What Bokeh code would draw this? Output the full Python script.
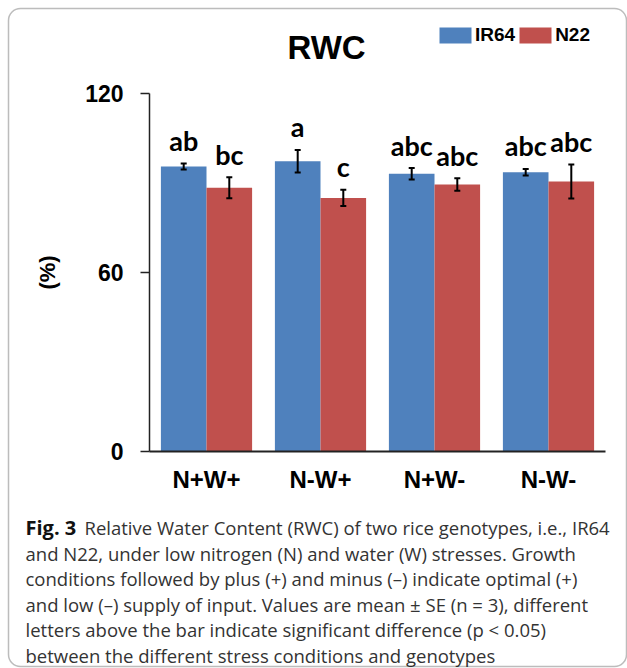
from bokeh.plotting import figure
from bokeh.models import (Range1d, ColumnDataSource, Whisker, TeeHead,
                          Label, BoxAnnotation, FixedTicker)
from bokeh.core.properties import value
from bokeh.embed import file_html
from bokeh.resources import INLINE

# ---------------- data ----------------
categories = ["N+W+", "N-W+", "N+W-", "N-W-"]
genotypes = ["IR64", "N22"]
ir64_mean = [95.5, 97.3, 93.1, 93.6]
ir64_se = [1.0, 3.8, 1.9, 1.1]
n22_mean = [88.4, 85.0, 89.5, 90.5]
n22_se = [3.5, 2.7, 2.1, 5.7]
ir64_letters = ["ab", "a", "abc", "abc"]
n22_letters = ["bc", "c", "abc", "abc"]
y_ticks = [0, 60, 120]
title_text = "RWC"
y_label = "(%)"
caption_bold = "Fig. 3"
caption_lines = [
    "Relative Water Content (RWC) of two rice genotypes, i.e., IR64",
    "and N22, under low nitrogen (N) and water (W) stresses. Growth",
    "conditions followed by plus (+) and minus (\u2013) indicate optimal (+)",
    "and low (\u2013) supply of input. Values are mean \u00b1 SE (n = 3), different",
    "letters above the bar indicate significant difference (p < 0.05)",
    "between the different stress conditions and genotypes",
]

colors = {"IR64": "#4F81BD", "N22": "#C0504D"}

# ---------------- layout geometry (canvas px) ----------------
W, H = 627, 668
AX_L, AX_R, AX_T, AX_B = 149, 605, 93, 451      # plotting area of the chart
cat_px = (AX_R - AX_L) / len(categories)         # px per category
y_px = (AX_B - AX_T) / 120.0                     # px per % unit

x_range = Range1d(-AX_L / cat_px, (W - AX_L) / cat_px)
y_range = Range1d(-(H - AX_B) / y_px, AX_B / y_px)

p = figure(width=W, height=H, x_range=x_range, y_range=y_range,
           output_backend="svg", toolbar_location=None, min_border=0)
p.outline_line_color = None
p.grid.visible = False
p.background_fill_color = "white"
p.border_fill_color = "white"

idx = list(range(len(categories)))
for means, ses, letters, off, g in [(ir64_mean, ir64_se, ir64_letters, -0.2, "IR64"),
                                     (n22_mean, n22_se, n22_letters, 0.2, "N22")]:
    src = ColumnDataSource(dict(
        x=[i + 0.5 + off for i in idx], top=means,
        upper=[m + s for m, s in zip(means, ses)],
        lower=[m - s for m, s in zip(means, ses)],
        letter=letters))
    p.vbar(x="x", top="top", width=0.4, bottom=0, source=src,
           fill_color=colors[g], line_color=None, legend_label=g)
    p.add_layout(Whisker(base="x", upper="upper", lower="lower", source=src,
                         level="overlay", line_color="black", line_width=2,
                         upper_head=TeeHead(size=6, line_width=2, line_color="black"),
                         lower_head=TeeHead(size=6, line_width=2, line_color="black")))
    p.text(x="x", y="upper", text="letter", source=src, text_align="center",
           text_baseline="alphabetic", y_offset=-23, text_font=value("Lato"),
           text_font_style="bold", text_font_size="27px", text_color="black")

# axes (placed at the data origin)
xa = p.xaxis[0]
xa.fixed_location = 0
xa.bounds = (0, len(categories))
xa.ticker = FixedTicker(ticks=[i + 0.5 for i in idx])
xa.major_label_overrides = {i + 0.5: c for i, c in zip(idx, categories)}
xa.major_tick_out = 0
xa.major_tick_in = 0
xa.minor_tick_out = 0
xa.minor_tick_in = 0
xa.axis_line_width = 2
xa.axis_line_color = "#222222"
xa.major_label_text_font = "Liberation Sans"
xa.major_label_text_font_style = "bold"
xa.major_label_text_font_size = "24px"
xa.major_label_text_color = "black"
xa.major_label_standoff = 14

ya = p.yaxis[0]
ya.fixed_location = 0
ya.bounds = (0, 120)
ya.ticker = FixedTicker(ticks=y_ticks)
ya.major_tick_out = 9
ya.major_tick_in = 0
ya.minor_tick_out = 0
ya.minor_tick_in = 0
ya.major_tick_line_width = 1.5
ya.axis_line_width = 1.5
ya.axis_line_color = "#222222"
ya.major_tick_line_color = "#222222"
ya.major_label_text_font = "Liberation Sans"
ya.major_label_text_font_style = "bold"
ya.major_label_text_font_size = "23px"
ya.major_label_text_color = "black"
ya.major_label_standoff = 17
ya.axis_label = y_label
ya.axis_label_text_font = "Liberation Sans"
ya.axis_label_text_font_style = "bold"
ya.axis_label_text_font_size = "22px"
ya.axis_label_text_color = "black"
ya.axis_label_standoff = 22

# legend
leg = p.legend[0]
leg.orientation = "horizontal"
leg.location = (435, H - 46)
leg.margin = 0
leg.padding = 0
leg.spacing = 0
leg.label_standoff = 0
leg.glyph_width = 40
leg.glyph_height = 20
leg.border_line_color = None
leg.background_fill_alpha = 0
leg.label_text_font = "Liberation Sans"
leg.label_text_font_style = "bold"
leg.label_text_font_size = "19px"
leg.label_text_color = "black"

# title
p.add_layout(Label(x=326, y=H - 46.5, x_units="screen", y_units="screen",
                   text=title_text, text_align="center", text_baseline="alphabetic",
                   text_font="Liberation Sans", text_font_style="bold",
                   text_font_size="33px", text_color="black"))

# caption
cx = 25
base0 = 527
step = 25.6
p.add_layout(Label(x=cx, y=H - base0, x_units="screen", y_units="screen",
                   text=caption_bold, text_baseline="alphabetic",
                   text_font="Open Sans", text_font_style="bold",
                   text_font_size="20px", text_color="#111111"))
for i, line in enumerate(caption_lines):
    xx = cx + (59 if i == 0 else 0)
    p.add_layout(Label(x=xx, y=H - (base0 + step * i), x_units="screen", y_units="screen",
                       text=line, text_baseline="alphabetic",
                       text_font="Open Sans", text_font_size="18.5px",
                       text_color="#333333"))

# outer rounded border
p.add_layout(BoxAnnotation(left=8, right=626, top=H - 8, bottom=H - 666,
                           left_units="screen", right_units="screen",
                           top_units="screen", bottom_units="screen",
                           fill_alpha=0, line_color="#222222", line_width=1.5,
                           border_radius=12))

open("out.html", "w").write(file_html(p, INLINE))
